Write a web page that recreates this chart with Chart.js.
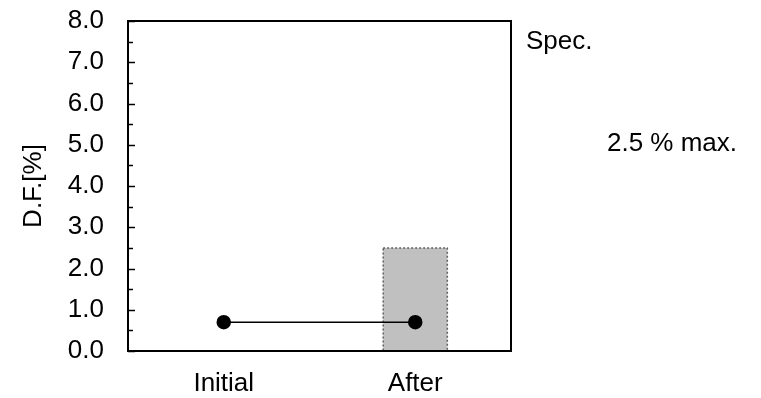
<!DOCTYPE html>
<html>
<head>
<meta charset="utf-8">
<script src="https://cdn.jsdelivr.net/npm/chart.js@4/dist/chart.umd.min.js"></script>
<style>
  html, body { margin: 0; padding: 0; background: #fff; }
  #wrap { width: 761px; height: 398px; }
</style>
</head>
<body>
<div id="wrap"><canvas id="chart" width="761" height="398"></canvas></div>
<script>
// Veriler
const categories = ['Initial', 'After'];
const dfValues = [0.7, 0.7];
const specMax = [null, 2.5];
const yMin = 0;
const yMax = 8;
const yStep = 1;
const yMinorStep = 0.5;

const fontFamily = '"Liberation Sans", Arial, sans-serif';
const fontSize = 26;

// Çerçeve, iç tick çizgileri ve spec metinleri
const framePlugin = {
    id: 'frame',
    afterDatasetDraw(chart, args) {
        // Spec çubuğunun noktalı kenarı
        if (args.index !== 1) return;
        const ctx = chart.ctx;
        const meta = chart.getDatasetMeta(1);
        meta.data.forEach(bar => {
            if (bar.skip || bar.y == null || isNaN(bar.y)) return;
            const w = bar.width;
            ctx.save();
            ctx.strokeStyle = '#606060';
            ctx.lineWidth = 1.5;
            ctx.setLineDash([2, 2]);
            ctx.strokeRect(bar.x - w / 2, bar.y, w, bar.base - bar.y);
            ctx.restore();
        });
    },
    afterDraw(chart) {
        const ctx = chart.ctx;
        const area = chart.chartArea;
        const y = chart.scales.y;
        ctx.save();
        ctx.strokeStyle = '#000';
        ctx.lineWidth = 2;
        ctx.strokeRect(area.left, area.top, area.right - area.left, area.bottom - area.top);
        ctx.lineWidth = 1.5;
        for (let v = yMin; v <= yMax; v += yMinorStep) {
            const py = Math.round(y.getPixelForValue(v)) + 0.5;
            const len = (v % yStep === 0) ? 7 : 5;
            ctx.beginPath();
            ctx.moveTo(area.left, py);
            ctx.lineTo(area.left + len, py);
            ctx.stroke();
        }
        ctx.fillStyle = '#000';
        ctx.font = fontSize + 'px ' + fontFamily;
        ctx.textBaseline = 'middle';
        ctx.textAlign = 'left';
        ctx.fillText('Spec.', area.right + 15, 42);
        ctx.fillText('2.5 % max.', area.right + 96, 144);
        ctx.restore();
    }
};

const ctx = document.getElementById('chart').getContext('2d');
const chart = new Chart(ctx, {
    data: {
        labels: categories,
        datasets: [{
            type: 'line',
            label: 'D.F.',
            data: dfValues,
            borderColor: '#000',
            borderWidth: 1.5,
            backgroundColor: '#000',
            pointRadius: 6.5,
            pointBackgroundColor: '#000',
            pointBorderColor: '#000',
            order: 0
        }, {
            type: 'bar',
            label: 'Spec.',
            data: specMax,
            backgroundColor: '#c0c0c0',
            borderWidth: 0,
            barPercentage: 0.335,
            categoryPercentage: 1,
            order: 1
        }]
    },
    options: {
        responsive: false,
        animation: false,
        devicePixelRatio: 1,
        layout: {
            padding: { top: 21, right: 250, left: 0, bottom: 0 }
        },
        plugins: {
            legend: { display: false },
            tooltip: { enabled: false }
        },
        scales: {
            x: {
                offset: true,
                grid: { display: false, drawTicks: false },
                border: { display: false },
                ticks: {
                    color: '#000',
                    padding: 17,
                    font: { family: fontFamily, size: fontSize }
                },
                afterFit(scale) { scale.height = 47; }
            },
            y: {
                min: yMin,
                max: yMax,
                // tick çizgileri eklentide içe doğru çiziliyor; tickLength sadece etiket boşluğu için
                grid: { display: false, drawTicks: true, tickLength: 24 },
                border: { display: false },
                ticks: {
                    stepSize: yStep,
                    color: '#000',
                    padding: 0,
                    font: { family: fontFamily, size: fontSize },
                    callback: v => v.toFixed(1)
                },
                title: {
                    display: true,
                    text: 'D.F.[%]',
                    color: '#000',
                    font: { family: fontFamily, size: fontSize },
                    padding: { top: 18, bottom: 0 }
                },
                afterFit(scale) { scale.width = 128; }
            }
        }
    },
    plugins: [framePlugin]
});
</script>
</body>
</html>
